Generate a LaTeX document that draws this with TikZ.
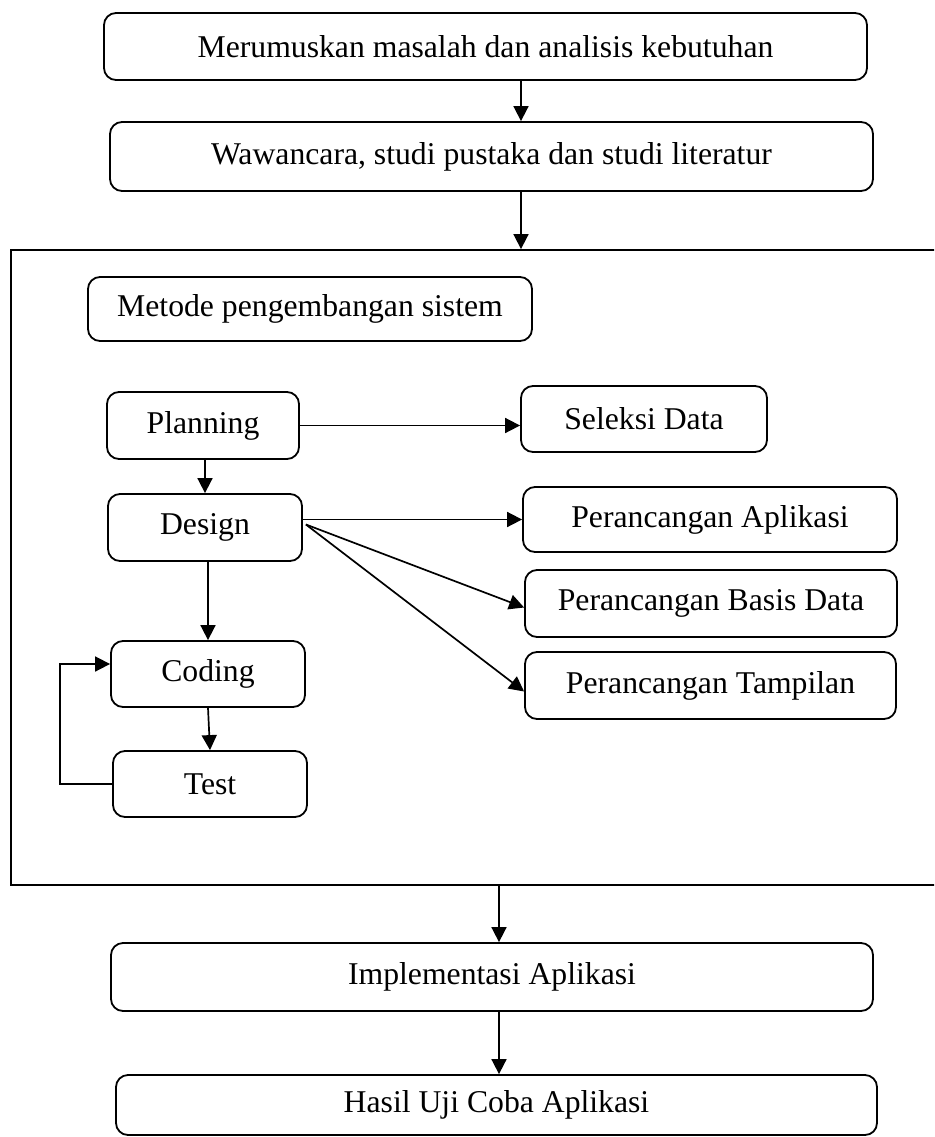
\documentclass[tikz,border=0pt]{standalone}
\usepackage{fontspec}
\setmainfont{Liberation Serif}
\usetikzlibrary{arrows.meta,calc}
\begin{document}
\begin{tikzpicture}[x=1pt,y=-1pt,
  box/.style={draw, line width=1.8pt, rounded corners=12pt, inner sep=0pt,
    font=\fontsize{31.7}{38}\selectfont, align=center},
  framebox/.style={draw, line width=1.8pt, inner sep=0pt},
  link/.style={line width=1.7pt, -{Triangle[length=15pt,width=15pt]}}]
\clip (0,0) rectangle (934,1137);

% main stages
\node[box, minimum width=763pt, minimum height=67pt] (rumus) at (485.5,46.5) {Merumuskan masalah dan analisis kebutuhan};
\node[box, minimum width=763pt, minimum height=69pt] (wawan) at (491.5,156.5) {Wawancara, studi pustaka dan studi literatur};

% development method frame
\node[framebox, minimum width=949pt, minimum height=635pt] (frame) at (485.5,567.5) {};
\node[box, minimum width=444pt, minimum height=64pt] (metode) at (310,309) {Metode pengembangan sistem};

\node[box, minimum width=192pt, minimum height=67pt] (plan) at (203,425.5) {Planning};
\node[box, minimum width=246pt, minimum height=66pt] (seleksi) at (644,419) {Seleksi Data};
\node[box, minimum width=194pt, minimum height=67pt] (design) at (205,527.5) {Design};
\node[box, minimum width=374pt, minimum height=65pt] (aplikasi) at (710,519.5) {Perancangan Aplikasi};
\node[box, minimum width=372pt, minimum height=67pt] (basis) at (711,603.5) {Perancangan Basis Data};
\node[box, minimum width=371pt, minimum height=67pt] (tampil) at (710.5,685.5) {Perancangan Tampilan};
\node[box, minimum width=194pt, minimum height=66pt] (coding) at (208,674) {Coding};
\node[box, minimum width=194pt, minimum height=66pt] (test) at (210,784) {Test};

% final stages
\node[box, minimum width=762pt, minimum height=68pt] (impl) at (492,977) {Implementasi Aplikasi};
\node[box, minimum width=761pt, minimum height=60pt] (hasil) at (496.5,1105) {Hasil Uji Coba Aplikasi};

% vertical spines of the main flow
\coordinate (spineA) at (521,0);
\coordinate (spineB) at (499,0);

\draw[link] (rumus.south -| spineA) -- (wawan.north -| spineA);
\draw[link] (wawan.south -| spineA) -- (frame.north -| spineA);
\draw[link] (frame.south -| spineB) -- (impl.north -| spineB);
\draw[link] (impl.south -| spineB) -- (hasil.north -| spineB);

% method flow
\draw[link] (plan.east) -- (plan.east -| seleksi.west);
\draw[link] (design.north |- plan.south) -- (design.north);
\draw[link] (aplikasi.west -| design.east) -- (aplikasi.west);
\coordinate (dsrc) at ($(design.east)+(3,-3)$);
\draw[link] (dsrc) -- ([yshift=-4pt]basis.west);
\draw[link] (dsrc) -- ([yshift=-6pt]tampil.west);
\draw[link] (coding.north |- design.south) -- (coding.north);
\draw[link] (coding.south) -- (test.north);
\draw[link] (test.west) -- ++(-52,0) |- ([yshift=10pt]coding.west);
\end{tikzpicture}
\end{document}
